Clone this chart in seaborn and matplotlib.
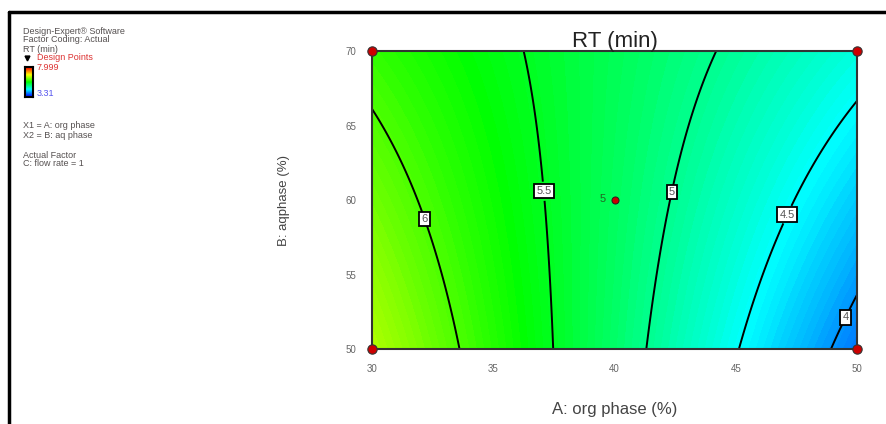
import numpy as np
import pandas as pd
import matplotlib
matplotlib.use('Agg')
import matplotlib.pyplot as plt
from matplotlib.colors import LinearSegmentedColormap
from matplotlib.lines import Line2D
import seaborn as sns

# --------------------------
# Data (RT in min)
# --------------------------
org_phase = [30, 35, 40, 45, 50]          # A: org phase (%)
aq_phase = [50, 55, 60, 65, 70]           # B: aq phase (%)
rt_b50 = [6.46, 5.80, 5.18, 4.53, 3.88]
rt_b55 = [6.33, 5.76, 5.20, 4.60, 4.03]
rt_b60 = [6.20, 5.71, 5.23, 4.74, 4.22]
rt_b65 = [6.02, 5.63, 5.25, 4.86, 4.46]
rt_b70 = [5.89, 5.57, 5.26, 4.95, 4.62]
contour_levels = [4.0, 4.5, 5.0, 5.5, 6.0]
label_pos = [(49.5, 52.15), (47.04, 59.1), (42.27, 60.6), (37.05, 60.6), (32.2, 58.76)]
rt_min, rt_max = 3.31, 7.999

design_a = [30, 30, 50, 50]
design_b = [50, 70, 50, 70]
center_a, center_b = 40, 60

# --------------------------
# Quadratic response surface through the read values
# --------------------------
grid = np.array([rt_b50, rt_b55, rt_b60, rt_b65, rt_b70])
A, B = np.meshgrid(org_phase, aq_phase)
def design_matrix(a, b):
    a = np.ravel(a); b = np.ravel(b)
    return np.column_stack([np.ones_like(a), a, b, a * b, a ** 2, b ** 2])
coef, *_ = np.linalg.lstsq(design_matrix(A, B), grid.ravel(), rcond=None)
fa, fb = np.meshgrid(np.linspace(30, 50, 201), np.linspace(50, 70, 201))
fz = (design_matrix(fa, fb) @ coef).reshape(fa.shape)

de_cmap = LinearSegmentedColormap.from_list(
    'de', ['#0000ff', '#00ffff', '#00ff00', '#ffff00', '#ff0000'])

sns.set_style('white')
plt.rcParams['font.family'] = ['Liberation Sans', 'DejaVu Sans']

fig = plt.figure(figsize=(8.86, 4.24), dpi=100)
ax = fig.add_axes([372 / 886, 1 - 349 / 424, 485 / 886, 297.5 / 424])

ax.contourf(fa, fb, fz, levels=np.linspace(rt_min, rt_max, 120),
            cmap=de_cmap, vmin=rt_min, vmax=rt_max)
cs = ax.contour(fa, fb, fz, levels=contour_levels, colors='black', linewidths=1.4)
labels = ax.clabel(cs, fmt={4.0: '4', 4.5: '4.5', 5.0: '5', 5.5: '5.5', 6.0: '6'},
                   manual=label_pos, inline=True, inline_spacing=2, fontsize=8,
                   colors='#555555')
for t in labels:
    t.set_rotation(0)
    t.set_bbox(dict(boxstyle='square,pad=0.2', facecolor='white',
                    edgecolor='black', linewidth=1.3))

# design points
pts = pd.DataFrame({'A': design_a, 'B': design_b})
sns.scatterplot(data=pts, x='A', y='B', ax=ax, color='#cc0000', s=45,
                edgecolor='#333333', linewidth=0.8, clip_on=False, zorder=5)
ax.scatter([center_a], [center_b], marker='o', s=26, color='#cc0000',
           edgecolor='#222222', linewidth=0.7, zorder=5)
ax.text(center_a - 0.35, center_b + 0.1, '5', fontsize=8, color='#226622',
        ha='right', va='center')

ax.set_xlim(30, 50)
ax.set_ylim(50, 70)
ax.set_xticks(org_phase)
ax.set_yticks(aq_phase)
ax.tick_params(axis='both', direction='out', length=8, width=1.2, color='black',
               labelsize=7, labelcolor='#666666', pad=3)
for s in ax.spines.values():
    s.set_color('#333333')
    s.set_linewidth(1.5)
ax.set_title('RT (min)', fontsize=16, color='#222222', pad=3)
ax.set_xlabel('A: org phase (%)', fontsize=12, color='#444444', labelpad=20)
ax.set_ylabel('B: aqphase (%)', fontsize=9.5, color='#444444', labelpad=40)

# outer frame
fig.add_artist(Line2D([9 / 886, 1.0], [1 - 12 / 424, 1 - 12 / 424],
                      transform=fig.transFigure, color='black', linewidth=2.5))
fig.add_artist(Line2D([9 / 886, 9 / 886], [0, 1 - 12 / 424],
                      transform=fig.transFigure, color='black', linewidth=2.5))

# legend block on the left
info_col = '#555050'
def ftext(x, y, s, **kw):
    fig.text(x / 886, 1 - y / 424, s, fontsize=6.5, va='center', **kw)

ftext(23, 31, 'Design-Expert\u00ae Software', color=info_col)
ftext(23, 40, 'Factor Coding: Actual', color=info_col)
ftext(23, 49, 'RT (min)', color=info_col)
ftext(37, 58, 'Design Points', color='#dd3333')
ftext(37, 67, '7.999', color='#dd3333')
ftext(37, 93, '3.31', color='#5555ee')
ftext(23, 126, 'X1 = A: org phase', color=info_col)
ftext(23, 135, 'X2 = B: aq phase', color=info_col)
ftext(23, 155, 'Actual Factor', color=info_col)
ftext(23, 164, 'C: flow rate = 1', color=info_col)
fig.add_artist(Line2D([27 / 886], [1 - 58 / 424], marker='v', markersize=3.5,
                      color='black', transform=fig.transFigure))

cax = fig.add_axes([25 / 886, 1 - 97 / 424, 8 / 886, 30 / 424])
cax.imshow(np.linspace(rt_max, rt_min, 50).reshape(-1, 1), aspect='auto',
           cmap=de_cmap, vmin=rt_min, vmax=rt_max)
cax.set_xticks([])
cax.set_yticks([])
for s in cax.spines.values():
    s.set_color('black')
    s.set_linewidth(1.5)

fig.savefig('out.png', dpi=100)
